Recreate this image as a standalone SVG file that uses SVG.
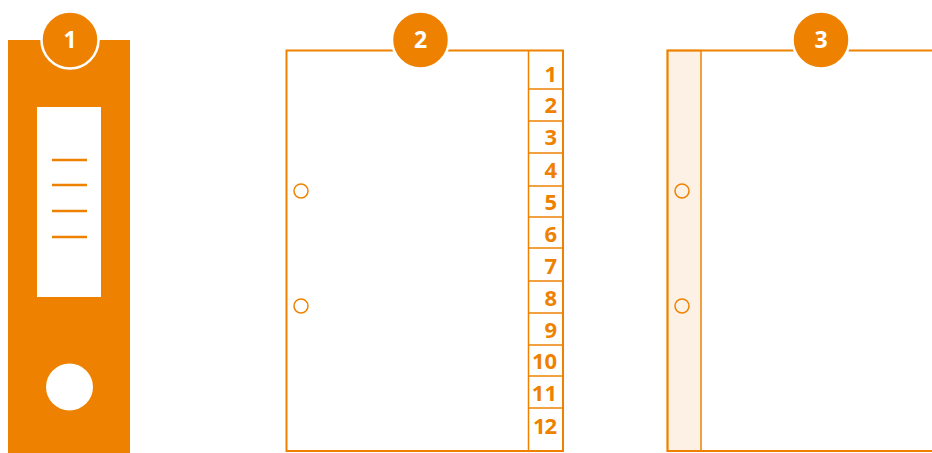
<svg xmlns="http://www.w3.org/2000/svg" width="932" height="453" viewBox="0 0 932 453">
<style>
.o{fill:#EE8200}
.ln{fill:none;stroke:#EE8200;stroke-width:2}
.thin{fill:none;stroke:#EE8200;stroke-width:1.5}
.badge{fill:#EE8200;stroke:#fff;stroke-width:2.5}
.bt{font-family:"Open Sans","Liberation Sans",sans-serif;font-weight:bold;font-size:23px;fill:#fff;text-anchor:middle}
.tab{font-family:"Open Sans","Liberation Sans",sans-serif;font-weight:bold;font-size:22px;fill:#EE8200;text-anchor:end}
.hole{fill:none;stroke:#EE8200;stroke-width:1.5}
</style>
<rect width="932" height="453" fill="#fff"/>
<g id="binder">
<rect x="8" y="40" width="122" height="413" class="o"/>
<rect x="37" y="107" width="64" height="190" fill="#fff"/>
<g stroke="#EE8200" stroke-width="2.5">
<line x1="52" y1="160" x2="87" y2="160"/>
<line x1="52" y1="185" x2="87" y2="185"/>
<line x1="52" y1="211" x2="87" y2="211"/>
<line x1="52" y1="237" x2="87" y2="237"/>
</g>
<circle cx="69.5" cy="387" r="23.5" fill="#fff"/>
<circle cx="70" cy="40" r="28.5" class="badge"/>
<text x="70" y="48" class="bt">1</text>
</g>
<g id="divider">
<rect x="286.5" y="50.5" width="276.5" height="400.5" class="ln"/>
<line x1="528.5" y1="50.5" x2="528.5" y2="451" class="thin"/>
<g class="thin">
<line x1="528.5" y1="89" x2="563" y2="89"/>
<line x1="528.5" y1="121" x2="563" y2="121"/>
<line x1="528.5" y1="153" x2="563" y2="153"/>
<line x1="528.5" y1="186" x2="563" y2="186"/>
<line x1="528.5" y1="217" x2="563" y2="217"/>
<line x1="528.5" y1="248" x2="563" y2="248"/>
<line x1="528.5" y1="281" x2="563" y2="281"/>
<line x1="528.5" y1="313" x2="563" y2="313"/>
<line x1="528.5" y1="345" x2="563" y2="345"/>
<line x1="528.5" y1="376" x2="563" y2="376"/>
<line x1="528.5" y1="408" x2="563" y2="408"/>
</g>
<text x="557" y="82" class="tab">1</text>
<text x="557" y="113" class="tab">2</text>
<text x="557" y="145" class="tab">3</text>
<text x="557" y="178" class="tab">4</text>
<text x="557" y="210" class="tab">5</text>
<text x="557" y="242" class="tab">6</text>
<text x="557" y="274" class="tab">7</text>
<text x="557" y="306" class="tab">8</text>
<text x="557" y="338" class="tab">9</text>
<text x="557" y="369" class="tab" textLength="25">10</text>
<text x="557" y="401" class="tab">11</text>
<text x="557" y="434" class="tab" textLength="24">12</text>
<circle cx="301" cy="191" r="7" class="hole"/>
<circle cx="301" cy="306" r="7" class="hole"/>
<circle cx="420.5" cy="40" r="28.5" class="badge"/>
<text x="420.5" y="48" class="bt">2</text>
</g>
<g id="sleeve">
<rect x="667.5" y="50.5" width="33.5" height="400.5" class="thin" style="fill:#FDF1E5"/>
<polyline points="932,50.5 667.5,50.5 667.5,451 932,451" class="ln"/>
<circle cx="682" cy="191" r="7" class="hole"/>
<circle cx="682" cy="306" r="7" class="hole"/>
<circle cx="821" cy="40" r="28.5" class="badge"/>
<text x="821" y="48" class="bt">3</text>
</g>
</svg>
